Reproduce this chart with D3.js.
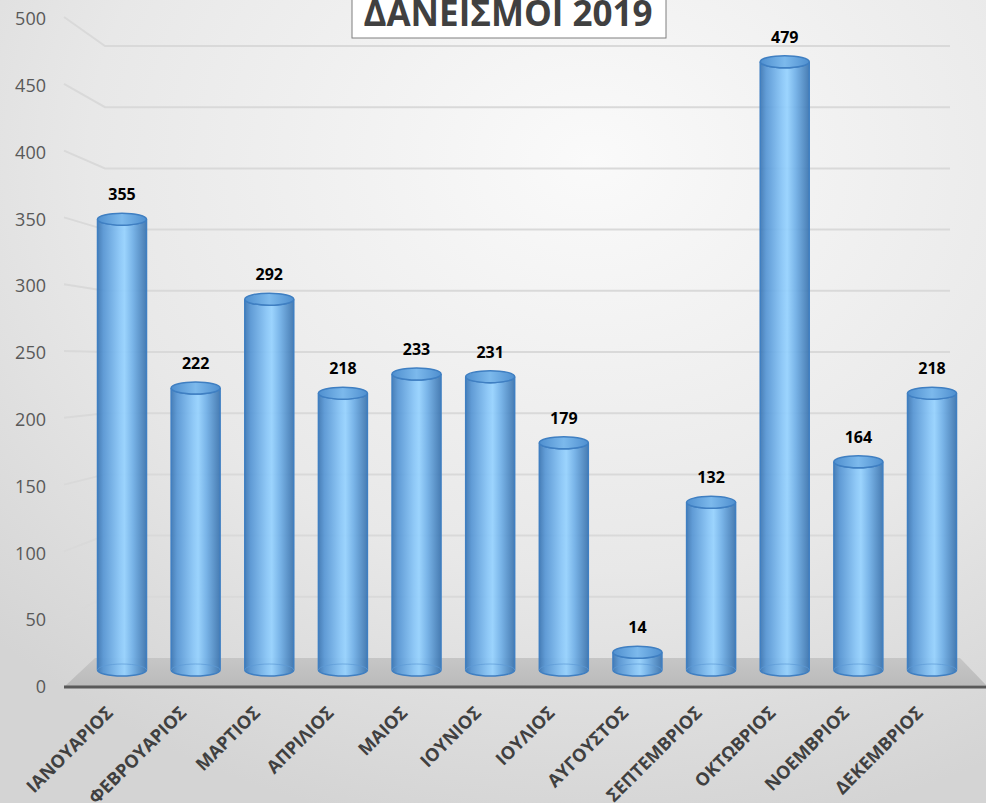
<!DOCTYPE html>
<html>
<head>
<meta charset="utf-8">
<script src="https://cdn.jsdelivr.net/npm/d3@7"></script>
<style>
  body { margin: 0; }
  svg { display: block; }
</style>
</head>
<body>
<div class="chart"></div>
<script>
var months = ["ΙΑΝΟΥΑΡΙΟΣ", "ΦΕΒΡΟΥΑΡΙΟΣ", "ΜΑΡΤΙΟΣ", "ΑΠΡΙΛΙΟΣ", "ΜΑΙΟΣ", "ΙΟΥΝΙΟΣ",
  "ΙΟΥΛΙΟΣ", "ΑΥΓΟΥΣΤΟΣ", "ΣΕΠΤΕΜΒΡΙΟΣ", "ΟΚΤΩΒΡΙΟΣ", "ΝΟΕΜΒΡΙΟΣ", "ΔΕΚΕΜΒΡΙΟΣ"];
var loans = [355, 222, 292, 218, 233, 231, 179, 14, 132, 479, 164, 218];
var yTicks = [0, 50, 100, 150, 200, 250, 300, 350, 400, 450, 500];
var title = "ΔΑΝΕΙΣΜΟΙ 2019";

var width = 986, height = 803;

var svg = d3.select(".chart").append("svg")
  .attr("width", width)
  .attr("height", height);

var defs = svg.append("defs");

var bg = defs.append("radialGradient").attr("id", "bg")
  .attr("cx", "60%").attr("cy", "20%").attr("r", "85%");
bg.append("stop").attr("offset", "0%").attr("stop-color", "#fafafa");
bg.append("stop").attr("offset", "60%").attr("stop-color", "#e8e8e8");
bg.append("stop").attr("offset", "100%").attr("stop-color", "#d4d4d4");

var body = defs.append("linearGradient").attr("id", "cyl")
  .attr("x1", "0%").attr("x2", "100%").attr("y1", "0%").attr("y2", "0%");
[["0%", "#3b76b3"], ["12%", "#5595d4"], ["45%", "#88c6f8"], ["55%", "#95d2ff"],
 ["72%", "#70b0e8"], ["100%", "#3a73ae"]].forEach(function(s) {
  body.append("stop").attr("offset", s[0]).attr("stop-color", s[1]);
});

var topGrad = defs.append("linearGradient").attr("id", "cylTop")
  .attr("x1", "0%").attr("x2", "100%").attr("y1", "0%").attr("y2", "0%");
[["0%", "#4f8fcf"], ["50%", "#7cb9ec"], ["100%", "#4f8fcf"]].forEach(function(s) {
  topGrad.append("stop").attr("offset", s[0]).attr("stop-color", s[1]);
});

var floorGrad = defs.append("linearGradient").attr("id", "floor")
  .attr("x1", "0%").attr("x2", "0%").attr("y1", "0%").attr("y2", "100%");
floorGrad.append("stop").attr("offset", "0%").attr("stop-color", "#c6c6c6");
floorGrad.append("stop").attr("offset", "100%").attr("stop-color", "#bababa");

svg.append("rect")
  .attr("width", width).attr("height", height)
  .attr("fill", "url(#bg)");

// scales: front edge (labels), back wall (grid), bars (mid depth)
var yFront = d3.scaleLinear().domain([0, 500]).range([687, 19]);
var yBack = d3.scaleLinear().domain([0, 500]).range([658, 46]);
var yBar = d3.scaleLinear().domain([0, 500]).range([670, 35]);
var x = d3.scalePoint().domain(months).range([122, 932]);

var frontLeft = 64, backLeft = 105, backRight = 950, frontRight = 986;

// grid lines
var grid = svg.append("g").attr("class", "grid");
grid.selectAll("path")
  .data(yTicks.filter(function(d) { return d > 0; }))
  .enter().append("path")
    .attr("d", function(d) {
      return "M" + frontLeft + "," + (yFront(d) - 2) + "L" + backLeft + "," + yBack(d) + "L" + backRight + "," + yBack(d);
    })
    .attr("fill", "none")
    .attr("stroke", "#d9d9d9")
    .attr("stroke-width", 2);

// floor
svg.append("path")
  .attr("d", "M" + frontLeft + "," + yFront(0) + "L" + (backLeft - 10) + "," + yBack(0) +
    "L" + (backRight + 10) + "," + yBack(0) + "L" + frontRight + "," + (yFront(0) - 2) + "Z")
  .attr("fill", "url(#floor)");

svg.append("line")
  .attr("x1", frontLeft).attr("x2", frontRight)
  .attr("y1", yFront(0)).attr("y2", yFront(0))
  .attr("stroke", "#595959")
  .attr("stroke-width", 3);

// y axis labels
var yAxis = d3.axisLeft(yFront).tickValues(yTicks).tickSize(0).tickPadding(0);
var yG = svg.append("g")
  .attr("transform", "translate(46,0)")
  .call(yAxis);
yG.select(".domain").remove();
yG.selectAll("text")
  .attr("fill", "#595959")
  .style("font-family", "'Open Sans', sans-serif")
  .style("font-size", "18px");

// cylinders
var rx = 24.5, ry = 6;
var bars = svg.selectAll(".bar")
  .data(loans)
  .enter().append("g")
    .attr("class", "bar")
    .attr("transform", function(d, i) { return "translate(" + x(months[i]) + ",0)"; });

bars.append("path")
  .attr("d", function(d) {
    var t = yBar(d), b = yBar(0);
    return "M" + (-rx) + "," + t + "L" + (-rx) + "," + b +
      "A" + rx + "," + ry + " 0 0 0 " + rx + "," + b +
      "L" + rx + "," + t +
      "A" + rx + "," + ry + " 0 0 1 " + (-rx) + "," + t + "Z";
  })
  .attr("fill", "url(#cyl)")
  .attr("fill-opacity", 0.92)
  .attr("stroke", "#3f7fc2")
  .attr("stroke-width", 1.5);

bars.append("path")
  .attr("d", function(d) {
    var b = yBar(0);
    return "M" + (-rx) + "," + b + "A" + rx + "," + ry + " 0 0 1 " + rx + "," + b;
  })
  .attr("fill", "none")
  .attr("stroke", "#5c9ad6")
  .attr("stroke-opacity", 0.7)
  .attr("stroke-width", 1);

bars.append("ellipse")
  .attr("cx", 0)
  .attr("cy", function(d) { return yBar(d); })
  .attr("rx", rx)
  .attr("ry", ry)
  .attr("fill", "url(#cylTop)")
  .attr("stroke", "#3f7fc2")
  .attr("stroke-width", 1.5);

bars.append("text")
  .attr("x", 0)
  .attr("y", function(d) { return yBar(d) - 19; })
  .attr("text-anchor", "middle")
  .style("font-family", "'Open Sans', sans-serif")
  .style("font-weight", "bold")
  .style("font-size", "16px")
  .attr("fill", "#000")
  .text(function(d) { return d; });

// x labels
svg.selectAll(".xlabel")
  .data(months)
  .enter().append("text")
    .attr("class", "xlabel")
    .attr("transform", function(d) { return "translate(" + (x(d) - 8) + ",714) rotate(-45)"; })
    .attr("text-anchor", "end")
    .style("font-family", "'Open Sans', sans-serif")
    .style("font-weight", "bold")
    .style("font-size", "18px")
    .attr("fill", "#404040")
    .text(function(d) { return d; });

// title
var tg = svg.append("g");
tg.append("rect")
  .attr("x", 352).attr("y", -4)
  .attr("width", 314).attr("height", 42)
  .attr("fill", "#fff")
  .attr("stroke", "#7f7f7f")
  .attr("stroke-width", 1);
tg.append("text")
  .attr("x", 508).attr("y", 26)
  .attr("text-anchor", "middle")
  .style("font-family", "'Open Sans', sans-serif")
  .style("font-weight", "bold")
  .style("font-size", "35px")
  .attr("fill", "#404040")
  .text(title);
</script>
</body>
</html>
